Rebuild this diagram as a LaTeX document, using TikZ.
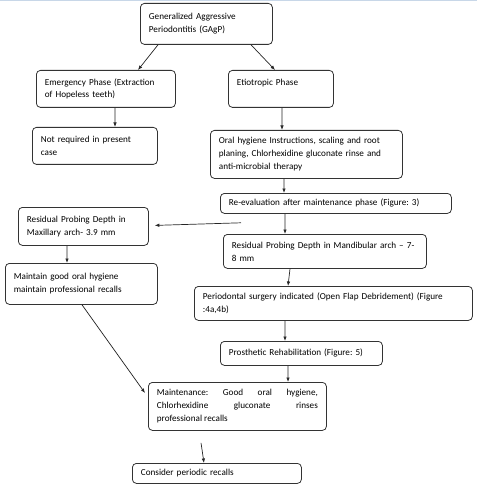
\documentclass[tikz,border=0pt]{standalone}
\usepackage{fontspec}
\setmainfont{Carlito}
\usetikzlibrary{arrows.meta,calc}
\begin{document}
\frenchspacing
\begin{tikzpicture}[x=1bp,y=-1bp,
  box/.style={draw=black!80, line width=0.8bp, rounded corners=4bp, anchor=north west,
    inner xsep=8.5bp, inner ysep=0bp, align=left,
    font=\fontsize{9.2}{13}\selectfont},
  arr/.style={draw=black!85, line width=0.7bp, -{Latex[length=4.5bp,width=3.5bp]}},
  plain/.style={draw=black!85, line width=0.7bp}]
\useasboundingbox (0,0) rectangle (477,489);
\fill[fill={rgb,255:red,200;green,215;blue,232}] (0,0) rectangle (477,1.5);
\newcommand{\bx}[6]{\node[box, minimum width=#4bp, minimum height=#5bp, text width=\dimexpr #4bp-17bp\relax] (#1) at (#2,#3) {#6};}
\bx{gagp}{140}{3}{132}{41}{Generalized Aggressive\\Periodontitis (GAgP)}
\bx{emer}{36}{70}{139}{37}{Emergency Phase (Extraction\\of Hopeless teeth)}
\bx{etio}{228}{70}{105}{37}{Etiotropic Phase\\\mbox{}}
\bx{notreq}{32}{127}{125}{37}{Not required in present\\case}
\bx{oral}{210}{130}{192}{48}{Oral hygiene Instructions, scaling and root\\planing, Chlorhexidine gluconate rinse and\\anti-microbial therapy}
\bx{reeval}{220}{193}{231}{20}{Re-evaluation after maintenance phase (Figure: 3)}
\bx{maxil}{18}{207}{130}{38}{Residual Probing Depth in\\Maxillary arch- 3.9 mm}
\bx{mand}{223}{234}{203}{34}{Residual Probing Depth in Mandibular arch -- 7-\\8 mm}
\bx{maint}{5}{263}{152}{41}{Maintain good oral hygiene\\maintain professional recalls}
\bx{perio}{194}{286}{278}{34}{Periodontal surgery indicated (Open Flap Debridement) (Figure\\:4a,4b)}
\bx{pros}{220}{341}{162}{24}{Prosthetic Rehabilitation (Figure: 5)}
\node[box, minimum width=178bp, minimum height=48bp, text width=161bp, align=justify] (mainten) at (148,382) {Maintenance: Good oral hygiene,\linebreak Chlorhexidine gluconate rinses\linebreak professional recalls};
\bx{consider}{132}{463}{169}{20}{Consider periodic recalls}
\draw[arr] ([xshift=18bp]gagp.south west) -- ([xshift=102bp]emer.north west);
\draw[arr] ([xshift=111bp]gagp.south west) -- ([xshift=47bp]etio.north west);
\draw[arr] ([xshift=79bp]emer.south west) -- ([xshift=83bp]notreq.north west);
\draw[arr] ([xshift=54bp]etio.south west) -- ([xshift=72bp]oral.north west);
\draw[arr] ([xshift=74bp]oral.south west) -- ([xshift=64bp]reeval.north west);
\draw[arr] ([xshift=21bp,yshift=-9bp]reeval.south west) -- ([xshift=6bp,yshift=1bp]maxil.east);
\draw[arr] ([xshift=65bp]reeval.south west) -- ([xshift=62bp]mand.north west);
\draw[arr] ([xshift=49bp]maxil.south west) -- ([xshift=62bp]maint.north west);
\draw[arr] ([xshift=67bp]mand.south west) -- ([xshift=94bp]perio.north west);
\draw[arr] ([xshift=91bp]perio.south west) -- ([xshift=65bp]pros.north west);
\draw[arr] ([xshift=68bp]pros.south west) -- ([xshift=140bp]mainten.north west);
\draw[arr] ([xshift=77bp]maint.south west) -- ([xshift=-3bp,yshift=-11bp]mainten.north west);
\draw[arr] ([xshift=53bp,yshift=-12bp]mainten.south west) -- ([xshift=72bp]consider.north west);
\end{tikzpicture}
\end{document}
